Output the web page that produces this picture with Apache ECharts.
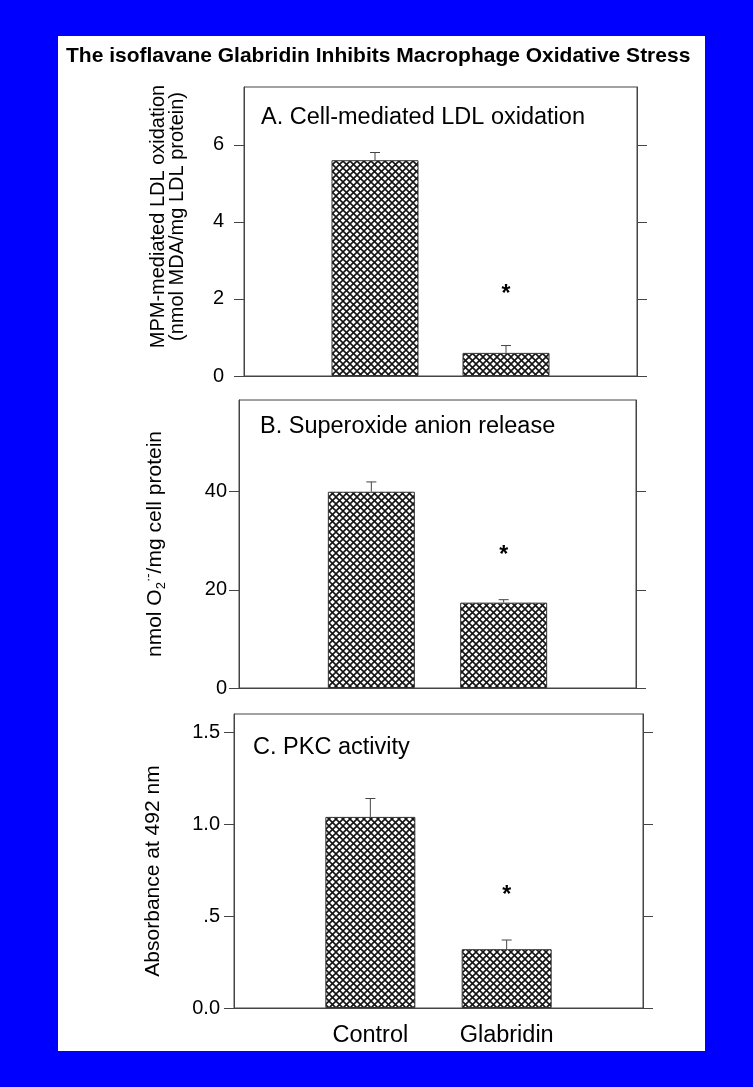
<!DOCTYPE html>
<html>
<head>
<meta charset="utf-8">
<script src="https://cdn.jsdelivr.net/npm/echarts@6/dist/echarts.min.js"></script>
<style>
html,body{margin:0;padding:0;background:#0000ff;}
#chart{width:753px;height:1087px;}
</style>
</head>
<body>
<div id="chart"></div>
<script>
// ---- data ----
const categories = ['Control', 'Glabridin'];
const valuesA = [5.6, 0.6];
const errorsA = [0.2, 0.19];
const starA = 2.23;
const valuesB = [40, 17.4];
const errorsB = [2.0, 0.6];
const starB = 28;
const valuesC = [1.04, 0.32];
const errorsC = [0.10, 0.05];
const starC = 0.64;
const ticksA = [0, 2, 4, 6];
const ticksB = [0, 20, 40];
const ticksC = [0, 0.5, 1.0, 1.5];
const tickLabelsC = ['0.0', '.5', '1.0', '1.5'];

const FONT = 'Liberation Sans, Arial, Helvetica, sans-serif';
const AXIS_COLOR = '#444';

function makePattern() {
  const p = 7;
  const c = document.createElement('canvas');
  c.width = p; c.height = p;
  const ctx = c.getContext('2d');
  ctx.fillStyle = '#ffffff';
  ctx.fillRect(0, 0, p, p);
  ctx.strokeStyle = '#151515';
  ctx.lineWidth = 1.6;
  for (const k of [-p, 0, p]) {
    ctx.beginPath(); ctx.moveTo(k, 0); ctx.lineTo(k + p, p); ctx.stroke();
    ctx.beginPath(); ctx.moveTo(k, p); ctx.lineTo(k + p, 0); ctx.stroke();
  }
  return c;
}
const pattern = { image: makePattern(), repeat: 'repeat' };

const grids = [
  { left: 244, top: 87, width: 393, height: 289 },
  { left: 239, top: 400, width: 397, height: 288 },
  { left: 234, top: 714, width: 409, height: 294 }
];
const yMax = [7.5, 58.7, 1.6];
const yTicks = [ticksA, ticksB, ticksC];
const yLabelMargin = [20, 12, 14];
const panelVals = [valuesA, valuesB, valuesC];
const panelErrs = [errorsA, errorsB, errorsC];
const panelStars = [starA, starB, starC];
const barWidths = [87, 87, 90];

const yNames = [
  { name: 'MPM-mediated LDL oxidation\n(nmol MDA/mg LDL protein)', gap: 57,
    style: { fontSize: 20, lineHeight: 19, padding: [0, 0, 0, 30] } },
  { name: 'nmol O{sub|2}{sup|·-}/mg cell protein', gap: 71, style: {
      fontSize: 21, lineHeight: 26,
      rich: {
        sub: { fontSize: 13, verticalAlign: 'bottom', lineHeight: 26, fontFamily: FONT, color: '#000' },
        sup: { fontSize: 13, verticalAlign: 'top', lineHeight: 26, fontFamily: FONT, color: '#000' }
      } } },
  { name: 'Absorbance at 492 nm', gap: 70, style: { fontSize: 21, padding: [0, 20, 0, 0] } }
];

const xAxes = grids.map((g, i) => ({
  type: 'value', gridIndex: i, min: 0, max: categories.length + 1, interval: 1,
  axisLine: { show: true, lineStyle: { color: AXIS_COLOR } },
  axisTick: { show: false },
  splitLine: { show: false },
  axisLabel: {
    show: i === 2, margin: 16, fontSize: 23.5, color: '#000', fontFamily: FONT,
    formatter: v => categories[v - 1] || ''
  }
}));

const yAxes = [];
grids.forEach((g, i) => {
  const fmt = i === 2 ? (v => { const k = ticksC.indexOf(v); return k >= 0 ? tickLabelsC[k] : ''; }) : (v => String(v));
  yAxes.push({
    type: 'value', gridIndex: i, min: 0, max: yMax[i], position: 'left',
    name: yNames[i].name, nameLocation: 'middle', nameGap: yNames[i].gap,
    nameTextStyle: Object.assign({ color: '#000', fontFamily: FONT }, yNames[i].style),
    axisLine: { show: true, lineStyle: { color: AXIS_COLOR } },
    axisTick: { show: true, inside: false, length: 10, lineStyle: { color: AXIS_COLOR }, customValues: yTicks[i] },
    axisLabel: { show: true, margin: yLabelMargin[i], fontSize: 20, color: '#000', fontFamily: FONT, customValues: yTicks[i], formatter: fmt },
    splitLine: { show: false }
  });
  yAxes.push({
    type: 'value', gridIndex: i, min: 0, max: yMax[i], position: 'right',
    axisLine: { show: true, lineStyle: { color: AXIS_COLOR } },
    axisTick: { show: true, inside: false, length: 10, lineStyle: { color: AXIS_COLOR }, customValues: yTicks[i] },
    axisLabel: { show: false },
    splitLine: { show: false }
  });
});

const series = [];
grids.forEach((g, i) => {
  const vals = panelVals[i], errs = panelErrs[i];
  series.push({
    type: 'bar', xAxisIndex: i, yAxisIndex: i * 2,
    barWidth: barWidths[i],
    data: vals.map((v, j) => [j + 1, v]),
    itemStyle: { color: pattern, borderColor: '#333', borderWidth: 1 },
    z: 2
  });
  series.push({
    type: 'custom', xAxisIndex: i, yAxisIndex: i * 2,
    data: vals.map((v, j) => [j + 1, v, errs[j]]),
    renderItem: (params, api) => {
      const x = api.value(0), v = api.value(1), e = api.value(2);
      const p0 = api.coord([x, v]);
      const p1 = api.coord([x, v + e]);
      const st = { stroke: '#444', lineWidth: 1 };
      return { type: 'group', children: [
        { type: 'line', shape: { x1: p0[0], y1: p0[1], x2: p1[0], y2: p1[1] }, style: st },
        { type: 'line', shape: { x1: p1[0] - 5, y1: p1[1], x2: p1[0] + 5, y2: p1[1] }, style: st }
      ] };
    },
    z: 3
  });
  series.push({
    type: 'custom', xAxisIndex: i, yAxisIndex: i * 2,
    data: [[2, panelStars[i]]],
    renderItem: (params, api) => {
      const p = api.coord([api.value(0), api.value(1)]);
      return { type: 'text', x: p[0], y: p[1] + 5, style: {
        text: '*', fontSize: 23, fontWeight: 'bold', fontFamily: FONT, fill: '#000',
        align: 'center', verticalAlign: 'middle' } };
    },
    z: 4
  });
});

const chart = echarts.init(document.getElementById('chart'), null, { renderer: 'canvas' });
chart.setOption({
  backgroundColor: '#0000ff',
  animation: false,
  graphic: [{ type: 'rect', z: -10, shape: { x: 58, y: 36, width: 647, height: 1015 }, style: { fill: '#ffffff' } }],
  title: [
    { text: 'The isoflavane Glabridin Inhibits Macrophage Oxidative Stress', left: 66, top: 46, padding: 0,
      textStyle: { fontSize: 21, fontWeight: 'bold', color: '#000', fontFamily: FONT } },
    { text: 'A. Cell-mediated LDL oxidation', left: 261, top: 106, padding: 0,
      textStyle: { fontSize: 23.5, fontWeight: 'normal', color: '#000', fontFamily: FONT } },
    { text: 'B. Superoxide anion release', left: 260, top: 415, padding: 0,
      textStyle: { fontSize: 23.5, fontWeight: 'normal', color: '#000', fontFamily: FONT } },
    { text: 'C. PKC activity', left: 253, top: 736, padding: 0,
      textStyle: { fontSize: 23.5, fontWeight: 'normal', color: '#000', fontFamily: FONT } }
  ],
  grid: grids.map(g => Object.assign({ show: true, borderColor: AXIS_COLOR, borderWidth: 1, backgroundColor: 'transparent' }, g)),
  xAxis: xAxes,
  yAxis: yAxes,
  series: series
});
</script>
</body>
</html>
